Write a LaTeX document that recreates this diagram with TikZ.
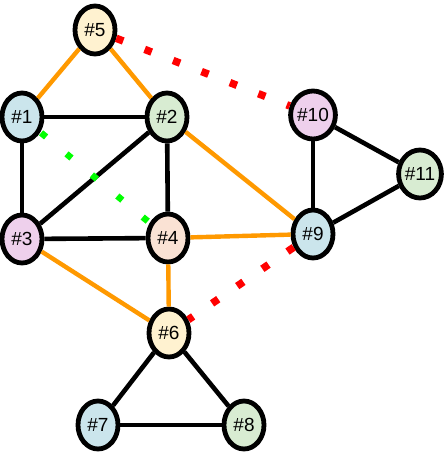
\documentclass[tikz,border=0pt]{standalone}
\usepackage{fontspec}
\setmainfont{Liberation Sans}
\usetikzlibrary{positioning,shapes.geometric}
\definecolor{gryellow}{RGB}{255,242,208}
\definecolor{grblue}{RGB}{203,229,236}
\definecolor{grgreen}{RGB}{216,236,210}
\definecolor{grpink}{RGB}{238,208,236}
\definecolor{grpeach}{RGB}{250,226,212}
\definecolor{grorange}{RGB}{255,153,0}
\tikzset{
  vert/.style={draw, ellipse, line width=4.8pt, inner sep=0pt, minimum width=40pt, minimum height=48pt, font=\fontsize{19}{21}\selectfont},
  plain/.style={line width=4.6pt, black},
  link/.style={line width=4.4pt, grorange},
  cut/.style={line width=7.5pt, red, dash pattern=on 7.5pt off 23pt},
  hint/.style={line width=6.5pt, green, dash pattern=on 6.5pt off 26.5pt, dash phase=-1pt}
}

\begin{document}
\begin{tikzpicture}[x=1pt, y=-1pt]
    \useasboundingbox (0,0) rectangle (446,452);
    \node[vert, fill=gryellow] (n5) at (95,30) {\#5};
    \node[vert, fill=grblue] (n1) at (22,117) {\#1};
    \node[vert, fill=grgreen] (n2) at (167,117) {\#2};
    \node[vert, fill=grpink] (n10) at (313,115) {\#10};
    \node[vert, fill=grgreen] (n11) at (420,174) {\#11};
    \node[vert, fill=grpink] (n3) at (22,239) {\#3};
    \node[vert, fill=grpeach] (n4) at (168,238) {\#4};
    \node[vert, fill=grblue] (n9) at (313,234) {\#9};
    \node[vert, fill=gryellow] (n6) at (169,333) {\#6};
    \node[vert, fill=grblue] (n7) at (98,425) {\#7};
    \node[vert, fill=grgreen] (n8) at (244,425) {\#8};
    % black edges
    \draw[plain] (n1) -- (n2);
    \draw[plain] (n1) -- (n3);
    \draw[plain] (n3) -- (n4);
    \draw[plain] (n3) -- (n2);
    \draw[plain] (n2) -- (n4);
    \draw[plain] (n10) -- (n9);
    \draw[plain] (n10) -- (n11);
    \draw[plain] (n11) -- (n9);
    \draw[plain] (n6) -- (n7);
    \draw[plain] (n6) -- (n8);
    \draw[plain] (n7) -- (n8);
    % orange edges
    \draw[link] (n5) -- (n1);
    \draw[link] (n5) -- (n2);
    \draw[link] (n2) -- (n9);
    \draw[link] (n4) -- (n9);
    \draw[link] (n3) -- (n6);
    \draw[link] (n4) -- (n6);
    % dotted edges
    \draw[cut] (n5) -- (n10);
    \draw[cut] (n9) -- (n6);
    \draw[hint] (n1) -- (n4);
  \end{tikzpicture}
\end{document}
